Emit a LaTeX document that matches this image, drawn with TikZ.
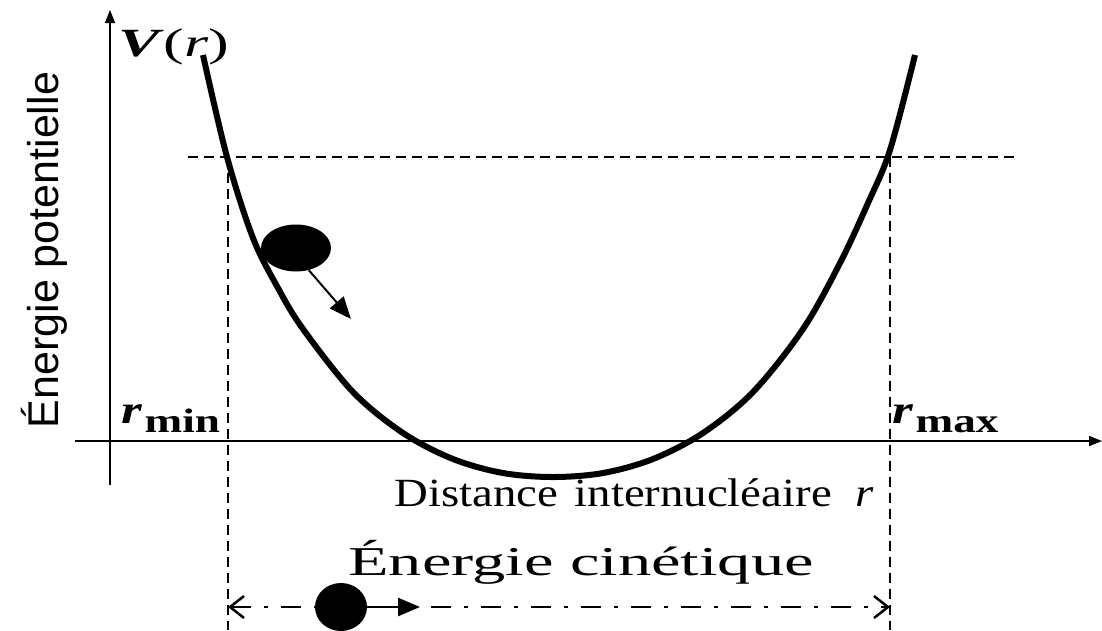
\documentclass[tikz,border=0pt]{standalone}
\usepackage{fontspec}
\setmainfont{Liberation Serif}
\newfontfamily\lsans{Liberation Sans}
\usetikzlibrary{arrows.meta,shapes.geometric}
\tikzset{
  axisline/.style={line width=1.8pt},
  guide/.style={line width=1.5pt, dash pattern=on 10pt off 6pt},
  curve/.style={line width=6pt, line join=round},
  ball/.style={ellipse, fill=black, inner sep=0pt},
  lbl/.style={inner sep=0pt, anchor=base},
  sublbl/.style={inner sep=0pt, anchor=base west, font=\fontsize{34}{34}\selectfont, xscale=1.33},
}
\begin{document}
\begin{tikzpicture}[x=1pt,y=-1pt]
\useasboundingbox (0,0) rectangle (1102,630);
% coordinates
\coordinate (yb) at (110,485);
\coordinate (yt) at (110,10);
\coordinate (xl) at (75,441);
\coordinate (xr) at (1102,441);
\coordinate (hl) at (188,157);
\coordinate (hr) at (1015,157);
\coordinate (vlt) at (228,157);
\coordinate (vlb) at (228,630);
\coordinate (vrt) at (890,157);
\coordinate (vrb) at (890,630);
\coordinate (kl) at (228,607);
\coordinate (kr) at (890,607);
% axes
\draw[axisline,-{Triangle[length=13pt,width=10pt]}] (yb) -- (yt);
\draw[axisline,-{Triangle[length=13pt,width=10pt]}] (xl) -- (xr);
% guides
\draw[guide] (hl) -- (hr);
\draw[guide] (vlt) -- (vlb);
\draw[guide] (vrt) -- (vrb);
% curve
\draw[curve] plot[smooth, tension=0.55] coordinates {(203,55) (227,157) (253,238) (278,288) (303,329) (353,392) (403,433) (453,459) (503,473) (553,477) (603,473) (653,459) (703,433) (753,392) (803,329) (840,263) (868,203) (890,150) (915,55)};
% ball on curve
\node[ball, minimum width=70pt, minimum height=47pt] (b1) at (296,248) {};
\coordinate (a1) at (351,319);
\draw[line width=2pt,-{Triangle[length=22pt,width=18pt]}] (b1.300) -- (a1);
% kinetic arrow
\draw[line width=2.5pt, dash pattern=on 20pt off 13pt on 4pt off 13pt, {Straight Barb[length=14pt,width=22pt,line width=2.5pt]}-{Straight Barb[length=14pt,width=22pt,line width=2.5pt]}] (kl) -- (kr);
\node[ball, minimum width=52pt, minimum height=48pt] (b2) at (341,607) {};
\coordinate (a2) at (420,607);
\draw[line width=2.5pt,-{Triangle[length=22pt,width=18pt]}] (b2.east) -- (a2);
% labels
\node[lbl, anchor=base west, font=\fontsize{40}{40}\selectfont, xscale=1.55] (vr) at (118,56) {\textbf{\textit{V}}(\textit{r})};
\node[sublbl] (rmin) at (121,423) {{\fontsize{40}{40}\selectfont\bfseries\itshape r}\hspace{2pt}\raisebox{-9pt}{\textbf{min}}};
\node[sublbl] (rmax) at (892,423) {{\fontsize{40}{40}\selectfont\bfseries\itshape r}\hspace{2pt}\raisebox{-9pt}{\textbf{max}}};
\node[lbl, font=\fontsize{40}{40}\selectfont, xscale=1.17] (dist) at (634,506) {Distance\hspace{0.35em}internucléaire\hspace{0.5em}\textit{r}};
\node[lbl, font=\fontsize{41}{41}\selectfont, xscale=1.62] (ek) at (581,575) {Énergie cinétique};
\node[lbl, anchor=base, rotate=90, font=\fontsize{43}{43}\selectfont\lsans] (ep) at (58,250) {Énergie potentielle};
\end{tikzpicture}
\end{document}
